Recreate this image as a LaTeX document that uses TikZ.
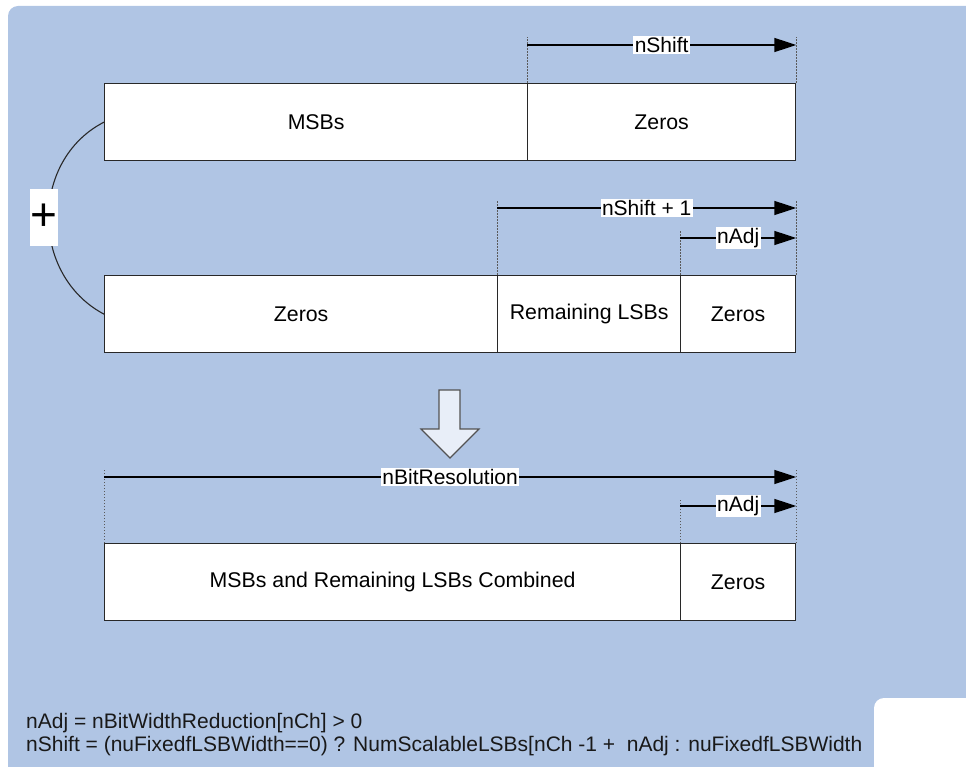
\documentclass[tikz,border=0pt]{standalone}
\usepackage{fontspec}
\setmainfont{Liberation Sans}
\usetikzlibrary{arrows.meta}
\definecolor{panelblue}{RGB}{176,197,228}
\definecolor{boxline}{RGB}{40,40,40}
\definecolor{guidegray}{RGB}{90,90,90}
\definecolor{blockfill}{RGB}{232,238,248}
\tikzset{
  cell/.style={draw=boxline, line width=1.3pt, fill=white, anchor=north west,
    minimum height=77pt, inner sep=0pt, font=\fontsize{21.3}{24}\selectfont},
  guide/.style={draw=guidegray, line width=0.6pt, dash pattern=on 1.5pt off 1.5pt},
  span/.style={draw=black, line width=1.4pt, -{Triangle[length=22pt,width=14pt]}},
  spanlabel/.style={fill=white, inner sep=1.5pt, font=\fontsize{21}{24}\selectfont},
  deftext/.style={anchor=base west, inner sep=0pt, text=black!90,
    font=\fontsize{21}{23}\selectfont},
}
\begin{document}
\begin{tikzpicture}[x=1pt,y=-1pt]
\useasboundingbox (0,0) rectangle (966,767);
% panel
\fill[panelblue, rounded corners=10pt] (8,6) rectangle (990,790);
\fill[white, rounded corners=10pt] (874,698) rectangle (990,790);

% first word: MSBs followed by zeros
\node[cell, minimum width=423pt] (msb) at (104,83) {MSBs};
\node[cell, minimum width=268pt] (zr1) at (527,83) {Zeros};

% second word: zeros, remaining LSBs, zeros
\node[cell, minimum width=393pt] (zl) at (104,275) {Zeros};
\node[cell, minimum width=183pt] (rem) at (497,275) {Remaining LSBs};
\node[cell, minimum width=115pt] (zr2) at (680,275) {Zeros};

% result word
\node[cell, minimum width=576pt] (comb) at (104,543) {MSBs and Remaining LSBs Combined};
\node[cell, minimum width=115pt] (zr3) at (680,543) {Zeros};

% guides and span for the first word
\coordinate (g1a) at ([yshift=46pt]zr1.north west);
\coordinate (g1b) at ([yshift=46pt]zr1.north east);
\coordinate (s1a) at ([yshift=38pt]zr1.north west);
\coordinate (s1b) at ([yshift=38pt]zr1.north east);
\draw[guide] (zr1.north west) -- (g1a);
\draw[guide] (zr1.north east) -- (g1b);
\draw[span] (s1a) -- node[spanlabel] {nShift} (s1b);

% guides and spans for the second word
\coordinate (g2a) at ([yshift=75pt]rem.north west);
\coordinate (g2b) at ([yshift=75pt]zr2.north east);
\coordinate (g2c) at ([yshift=45pt]zr2.north west);
\coordinate (s2a) at ([yshift=67pt]rem.north west);
\coordinate (s2b) at ([yshift=67pt]zr2.north east);
\coordinate (s2c) at ([yshift=37pt]zr2.north west);
\coordinate (s2d) at ([yshift=37pt]zr2.north east);
\draw[guide] (rem.north west) -- (g2a);
\draw[guide] (zr2.north east) -- (g2b);
\draw[guide] (zr2.north west) -- (g2c);
\draw[span] (s2a) -- node[spanlabel] {nShift + 1} (s2b);
\draw[span] (s2c) -- node[spanlabel] {nAdj} (s2d);

% guides and spans for the result word
\coordinate (g3a) at ([yshift=75pt]comb.north west);
\coordinate (g3b) at ([yshift=75pt]zr3.north east);
\coordinate (g3c) at ([yshift=45pt]zr3.north west);
\coordinate (s3a) at ([yshift=66pt]comb.north west);
\coordinate (s3b) at ([yshift=66pt]zr3.north east);
\coordinate (s3c) at ([yshift=37pt]zr3.north west);
\coordinate (s3d) at ([yshift=37pt]zr3.north east);
\draw[guide] (comb.north west) -- (g3a);
\draw[guide] (zr3.north east) -- (g3b);
\draw[guide] (zr3.north west) -- (g3c);
\draw[span] (s3a) -- node[spanlabel] {nBitResolution} (s3b);
\draw[span] (s3c) -- node[spanlabel] {nAdj} (s3d);

% addition of the two words
\draw[boxline, line width=1.1pt] (msb.west) .. controls (30,160) and (30,275) .. (zl.west);
\node[fill=white, minimum width=28pt, minimum height=57pt, inner sep=0pt,
  font=\fontsize{46}{46}\selectfont] (plus) at (44,217.5) {+};

% block arrow towards the result
\draw[draw=boxline!80, fill=blockfill, line width=1.2pt, line join=miter]
  (439,390) -- (460,390) -- (460,429) -- (479,429) -- (450,458) -- (421,429) -- (439,429) -- cycle;

% definitions
\node[deftext] (defadj) at (26,728) {nAdj = nBitWidthReduction[nCh] > 0};
\node[deftext] (defshift) at (26,751)
  {nShift = (nuFixedfLSBWidth==0) ? NumScalableLSBs[nCh -1 + \ nAdj : nuFixedfLSBWidth};
\end{tikzpicture}
\end{document}
